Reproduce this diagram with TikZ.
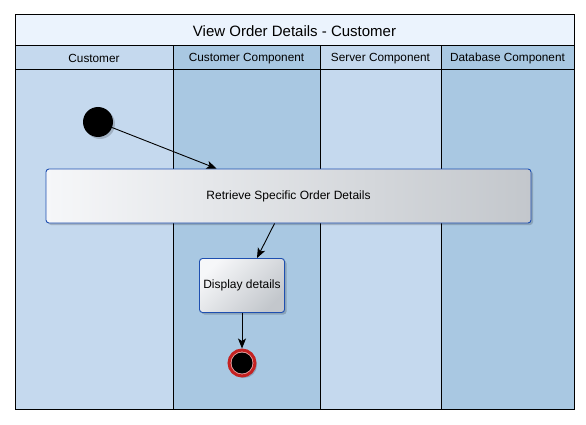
\documentclass[tikz,border=0pt]{standalone}
\usepackage{fontspec}
\setmainfont{Liberation Sans}
\usetikzlibrary{arrows.meta,shadows}
\definecolor{laneA}{HTML}{C5D9EE}
\definecolor{laneB}{HTML}{A9C8E2}
\definecolor{titlebg}{HTML}{EBF3FD}
\definecolor{boxblue}{HTML}{1E4FB0}
\definecolor{boxlight}{HTML}{F6F7F9}
\definecolor{boxdark}{HTML}{C3C7CC}
\definecolor{endred}{HTML}{C42222}
\definecolor{endpink}{HTML}{EBA8A8}
\begin{document}
\begin{tikzpicture}[x=1pt,y=-1pt,
  frameline/.style={draw=black,line width=1pt},
  headtext/.style={font=\fontsize{11.8}{13}\selectfont,text=black,inner sep=0pt},
  titletext/.style={font=\fontsize{15}{17}\selectfont,text=black,inner sep=0pt},
  actbox/.style={draw=boxblue,line width=0.9pt,rounded corners=3pt,
    font=\fontsize{12}{14}\selectfont,text=black,
    drop shadow={shadow xshift=2pt,shadow yshift=-2pt,opacity=0.18,fill=black}},
  wideshade/.style={left color=boxlight,right color=boxdark},
  diagshade/.style={top color=boxlight,bottom color=boxdark,shading angle=45},
  startnode/.style={circle,fill=black,minimum size=30pt,inner sep=0pt,
    drop shadow={shadow xshift=2pt,shadow yshift=-2pt,opacity=0.18,fill=black}},
  endnode/.style={circle,draw=endred,line width=3pt,fill=endpink,minimum size=26pt,inner sep=0pt,
    drop shadow={shadow xshift=2pt,shadow yshift=-2pt,opacity=0.18,fill=black},
    path picture={\fill[black] (path picture bounding box.center) circle (10.5pt);}},
  flow/.style={draw=black,line width=0.9pt,-{Stealth[length=10pt,width=8pt,inset=2.5pt]}}
]
\useasboundingbox (0,0) rectangle (586,425);
\fill[white] (0,0) rectangle (586,425);
% lanes
\fill[laneA] (15,46) rectangle (173,409);
\fill[laneB] (173,46) rectangle (320,409);
\fill[laneA] (320,46) rectangle (441,409);
\fill[laneB] (441,46) rectangle (574,409);
\fill[titlebg] (15,15) rectangle (574,46);
\draw[frameline] (15,46) -- (574,46);
\draw[frameline] (15,70) -- (574,70);
\draw[frameline] (173,46) -- (173,409);
\draw[frameline] (320,46) -- (320,409);
\draw[frameline] (441,46) -- (441,409);
\draw[frameline] (15,15) rectangle (574,409);
% texts
\node[titletext] (title) at (294.5,31) {View Order Details - Customer};
\node[headtext] (h1) at (94,58.5) {Customer};
\node[headtext] (h2) at (246.5,58.5) {Customer Component};
\node[headtext] (h3) at (380.5,58.5) {Server Component};
\node[headtext] (h4) at (507.5,58.5) {Database Component};
% activity nodes
\node[startnode] (start) at (98,122) {};
\node[actbox,wideshade,minimum width=485pt,minimum height=54pt] (retrieve) at (288.5,196) {Retrieve Specific Order Details};
\node[actbox,diagshade,minimum width=85pt,minimum height=54pt] (display) at (242,285.5) {Display details};
\node[endnode] (end) at (242,363) {};
% flows
\draw[flow] (start) -- ([xshift=171pt]retrieve.north west);
\draw[flow] ([xshift=229pt]retrieve.south west) -- ([xshift=15pt]display.north);
\draw[flow] (display.south) -- (end.north);
\end{tikzpicture}
\end{document}
